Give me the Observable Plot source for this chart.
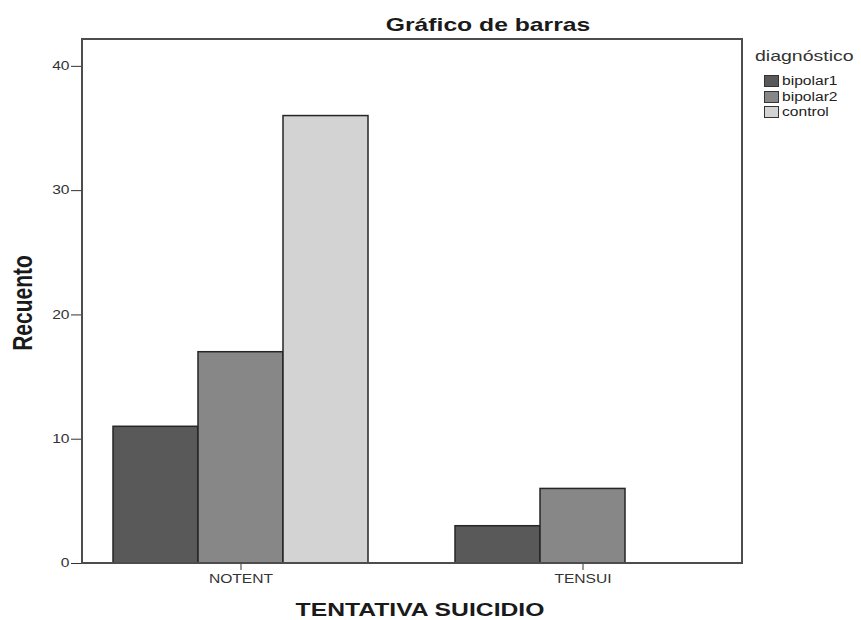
<!DOCTYPE html>
<html>
<head>
<meta charset="utf-8">
<script src="https://cdn.jsdelivr.net/npm/d3@7"></script>
<script src="https://cdn.jsdelivr.net/npm/@observablehq/plot@0.6"></script>
<style>
  html, body { margin: 0; padding: 0; background: #fff; }
  #wrap { position: relative; width: 861px; height: 620px; overflow: hidden; font-family: "Liberation Sans", Arial, sans-serif; color: #222; }
  #chart { position: absolute; left: 0; top: 0; }
  .stretch { position: absolute; white-space: nowrap; line-height: 1; }
  #title { left: 488px; top: 15px; font-size: 19px; font-weight: bold; transform: translateX(-50%) scaleX(1.3); color: #1a1a1a; }
  #xtitle { left: 420px; top: 600px; font-size: 19px; font-weight: bold; transform: translateX(-50%) scaleX(1.3); color: #1a1a1a; }
  #ytitle { left: 22px; top: 303px; font-size: 21px; font-weight: bold; transform: translate(-50%, -50%) rotate(-90deg) scaleY(1.3); color: #1a1a1a; }
  #legtitle { left: 755px; top: 48px; font-size: 15px; transform: scaleX(1.3); transform-origin: left center; color: #333; }
  .sw { position: absolute; width: 15px; height: 12px; box-sizing: border-box; border: 1px solid #333; }
  .lab { position: absolute; font-size: 12px; line-height: 12px; transform: scaleX(1.3); transform-origin: left center; color: #222; white-space: nowrap; }
</style>
</head>
<body>
<div id="wrap">
  <div id="chart"></div>
  <div id="title" class="stretch"></div>
  <div id="xtitle" class="stretch"></div>
  <div id="ytitle" class="stretch"></div>
  <div id="legtitle" class="stretch"></div>
  <div id="legend"></div>
</div>
<script>
// ---- data ----
const chartTitle = "Gráfico de barras";
const xTitle = "TENTATIVA SUICIDIO";
const yTitle = "Recuento";
const legendTitle = "diagnóstico";
const categories = ["NOTENT", "TENSUI"];
const groups = ["bipolar1", "bipolar2", "control"];
const countsNOTENT = [11, 17, 36];
const countsTENSUI = [3, 6, 0];
const yTicks = [0, 10, 20, 30, 40];
const groupColors = ["#595959", "#878787", "#d3d3d3"];

const counts = [countsNOTENT, countsTENSUI];
const data = categories.flatMap((c, i) => groups.map((g, j) => ({cat: c, diag: g, n: counts[i][j]})));

const chart = Plot.plot({
  width: 861,
  height: 620,
  marginLeft: 82,
  marginRight: 119,
  marginTop: 39,
  marginBottom: 57,
  style: {fontSize: "12px", fontFamily: "'Liberation Sans', Arial, sans-serif", color: "#333", background: "transparent"},
  fx: {domain: categories, paddingInner: 0.254, paddingOuter: 0.09, label: null, axis: "bottom", tickSize: 7, tickPadding: 4},
  x: {domain: groups, axis: null, padding: 0},
  y: {domain: [0, 42.16], ticks: yTicks, tickSize: 11, tickPadding: 2, label: null},
  color: {domain: groups, range: groupColors},
  marks: [
    Plot.barY(data.filter(d => d.n > 0), {fx: "cat", x: "diag", y: "n", fill: "diag", stroke: "#262626", strokeWidth: 1.5})
  ]
});
document.getElementById("chart").appendChild(chart);

// frame around the plot area from the library's scales
const fxS = chart.scale("fx"), yS = chart.scale("y");
const x0 = Math.min(...fxS.range), x1 = Math.max(...fxS.range);
const y0 = Math.min(...yS.range), y1 = Math.max(...yS.range);

// move the y axis (drawn at the first facet) to the left edge of the frame
const svgLeft = chart.getBoundingClientRect().left;
const yAxisGroups = Array.from(chart.querySelectorAll('[aria-label^="y-axis"]'));
const tickGroup = yAxisGroups.find(g => /tick$/.test(g.getAttribute("aria-label"))) || yAxisGroups[0];
if (tickGroup) {
  const r = tickGroup.getBoundingClientRect();
  const shift = x0 - (r.right - svgLeft);
  if (Math.abs(shift) > 2) {
    yAxisGroups.forEach(g => {
      const t = g.getAttribute("transform") || "";
      g.setAttribute("transform", `translate(${shift},0) ${t}`);
    });
  }
}

d3.select(chart).append("rect")
  .attr("x", x0).attr("y", y0).attr("width", x1 - x0).attr("height", y1 - y0)
  .attr("fill", "none").attr("stroke", "#4d4d4d").attr("stroke-width", 2);

// horizontally stretched text like the original
d3.select(chart).selectAll("text").each(function() {
  const w = this.getComputedTextLength();
  this.setAttribute("textLength", w * 1.3);
  this.setAttribute("lengthAdjust", "spacingAndGlyphs");
});

document.getElementById("title").textContent = chartTitle;
document.getElementById("xtitle").textContent = xTitle;
document.getElementById("ytitle").textContent = yTitle;
document.getElementById("legtitle").textContent = legendTitle;

const leg = document.getElementById("legend");
groups.forEach((g, i) => {
  const top = 75 + i * 15.5;
  const sw = document.createElement("div");
  sw.className = "sw";
  sw.style.left = "764px"; sw.style.top = top + "px"; sw.style.background = groupColors[i];
  leg.appendChild(sw);
  const lab = document.createElement("div");
  lab.className = "lab";
  lab.style.left = "782px"; lab.style.top = top + "px";
  lab.textContent = g;
  leg.appendChild(lab);
});
</script>
</body>
</html>
